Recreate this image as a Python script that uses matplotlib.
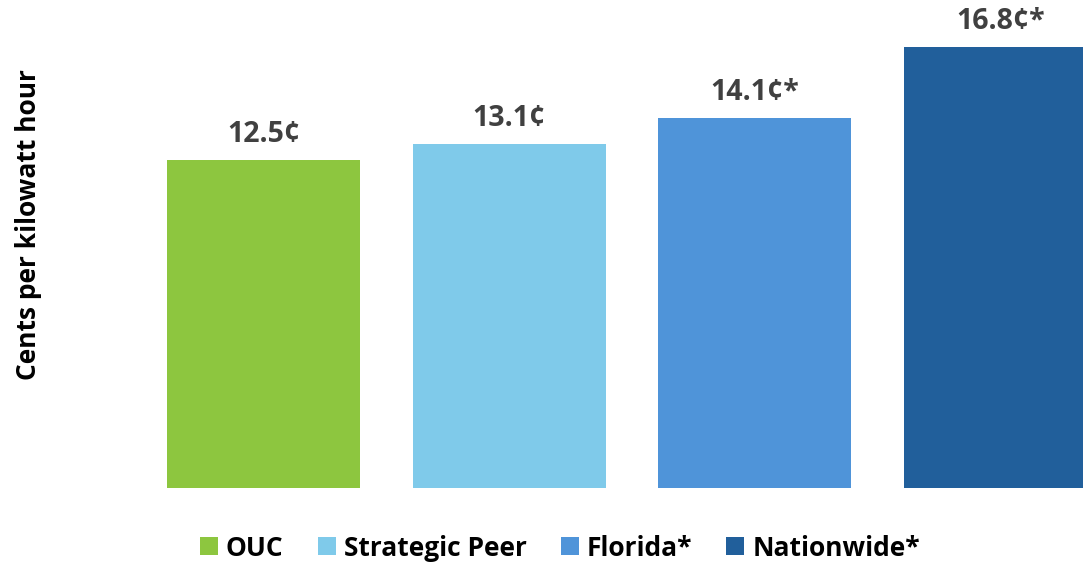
import matplotlib
matplotlib.use("Agg")
import matplotlib.pyplot as plt
from matplotlib.patches import Patch

categories = ["OUC", "Strategic Peer", "Florida*", "Nationwide*"]
values = [12.5, 13.1, 14.1, 16.8]
labels = ["12.5¢", "13.1¢", "14.1¢*", "16.8¢*"]
colors = ["#8DC63F", "#7FCAEA", "#4F94D9", "#215F9B"]

plt.rcParams['font.family'] = ['Open Sans', 'DejaVu Sans']

fig = plt.figure(figsize=(10.83, 5.64), dpi=100)
ax = fig.add_axes([0, 76/564, 1, 488/564])
x = list(range(len(categories)))
bars = ax.bar(x, values, width=0.785, color=colors)
for xi, v, lab in zip(x, values, labels):
    ax.text(xi, v + 0.69, lab, ha='center', va='baseline', fontsize=20.5,
            fontweight='bold', color='#404040')
ax.set_xlim(-263.5/245.7, (1083-263.5)/245.7)
ax.set_ylim(0, 488/26.24)
ax.axis('off')

fig.text(0.026, 1 - 225/564, "Cents per kilowatt hour", rotation=90,
         ha='center', va='center', fontsize=19, fontweight='bold', color='black')

handles = [Patch(facecolor=c, edgecolor='none') for c in colors]
fig.legend(handles, categories, loc='center', bbox_to_anchor=(0.517, 1 - 548/564),
           ncol=4, frameon=False, prop={'weight': 'bold', 'size': 19},
           handlelength=0.68, handleheight=0.68, handletextpad=0.3, columnspacing=1.3)

fig.savefig("out.png", dpi=100)
